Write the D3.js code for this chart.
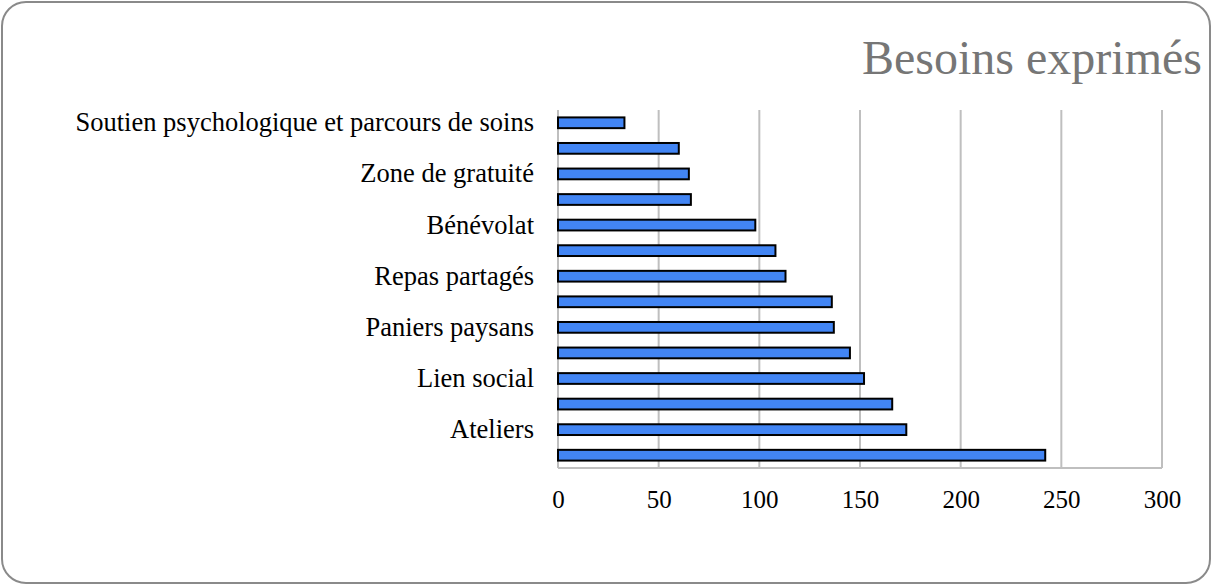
<!DOCTYPE html>
<html>
<head>
<meta charset="utf-8">
<script src="https://cdn.jsdelivr.net/npm/d3@7"></script>
<style>
body { margin: 0; background: #ffffff; }
</style>
</head>
<body>
<div id="my_dataviz"></div>
<script>
// data, top to bottom as shown
var labels = ["Soutien psychologique et parcours de soins", "", "Zone de gratuité", "",
  "Bénévolat", "", "Repas partagés", "", "Paniers paysans", "", "Lien social", "", "Ateliers", ""];
var values = [33, 60, 65, 66, 98, 108, 113, 136, 137, 145, 152, 166, 173, 242];
var xTicks = [0, 50, 100, 150, 200, 250, 300];
var title = "Besoins exprimés";

var W = 1212, H = 585;
var margin = {top: 110, right: 50, bottom: 117, left: 558},
width = W - margin.left - margin.right,
height = H - margin.top - margin.bottom;

var root = d3.select("#my_dataviz")
.append("svg")
.attr("width", W)
.attr("height", H);

// rounded frame
root.append("rect")
.attr("x", 2).attr("y", 2)
.attr("width", W - 4).attr("height", H - 4)
.attr("rx", 24).attr("ry", 24)
.attr("fill", "#ffffff")
.attr("stroke", "#8a8a8a")
.attr("stroke-width", 2);

root.append("text")
.attr("x", 1202)
.attr("y", 74)
.attr("text-anchor", "end")
.attr("font-family", "Liberation Serif, Times New Roman, serif")
.attr("font-size", 48)
.attr("fill", "#767676")
.text(title);

var svg = root.append("g")
.attr("transform", "translate(" + margin.left + "," + margin.top + ")");

var x = d3.scaleLinear()
.domain([0, 300])
.range([0, width]);

var y = d3.scaleBand()
.domain(d3.range(values.length))
.range([0, height])
.paddingInner(0.58)
.paddingOuter(0.29);

// gridlines
svg.append("g")
.selectAll("line")
.data(xTicks)
.enter()
.append("line")
.attr("x1", function (d) { return x(d); })
.attr("x2", function (d) { return x(d); })
.attr("y1", 0)
.attr("y2", height)
.attr("stroke", "#bfbfbf")
.attr("stroke-width", 2);

svg.append("line")
.attr("x1", 0).attr("x2", width)
.attr("y1", height).attr("y2", height)
.attr("stroke", "#bfbfbf")
.attr("stroke-width", 2);

// bars
svg.append("g")
.selectAll("rect")
.data(values)
.enter()
.append("rect")
.attr("x", x(0))
.attr("y", function (d, i) { return y(i); })
.attr("width", function (d) { return x(d) - x(0); })
.attr("height", y.bandwidth())
.attr("fill", "#4285f4")
.attr("stroke", "#000000")
.attr("stroke-width", 2);

// X axis
var xAxis = svg.append("g")
.attr("transform", "translate(0," + height + ")")
.call(d3.axisBottom(x).tickValues(xTicks).tickSize(0).tickPadding(22));
xAxis.select(".domain").remove();
xAxis.selectAll("text")
.attr("font-family", "Liberation Serif, Times New Roman, serif")
.attr("font-size", 25)
.attr("fill", "#000000");

// Y axis
var yAxis = svg.append("g")
.call(d3.axisLeft(y).tickFormat(function (i) { return labels[i]; }).tickSize(0).tickPadding(24));
yAxis.select(".domain").remove();
yAxis.selectAll("text")
.attr("font-family", "Liberation Serif, Times New Roman, serif")
.attr("font-size", 26.5)
.attr("fill", "#000000");
</script>
</body>
</html>
